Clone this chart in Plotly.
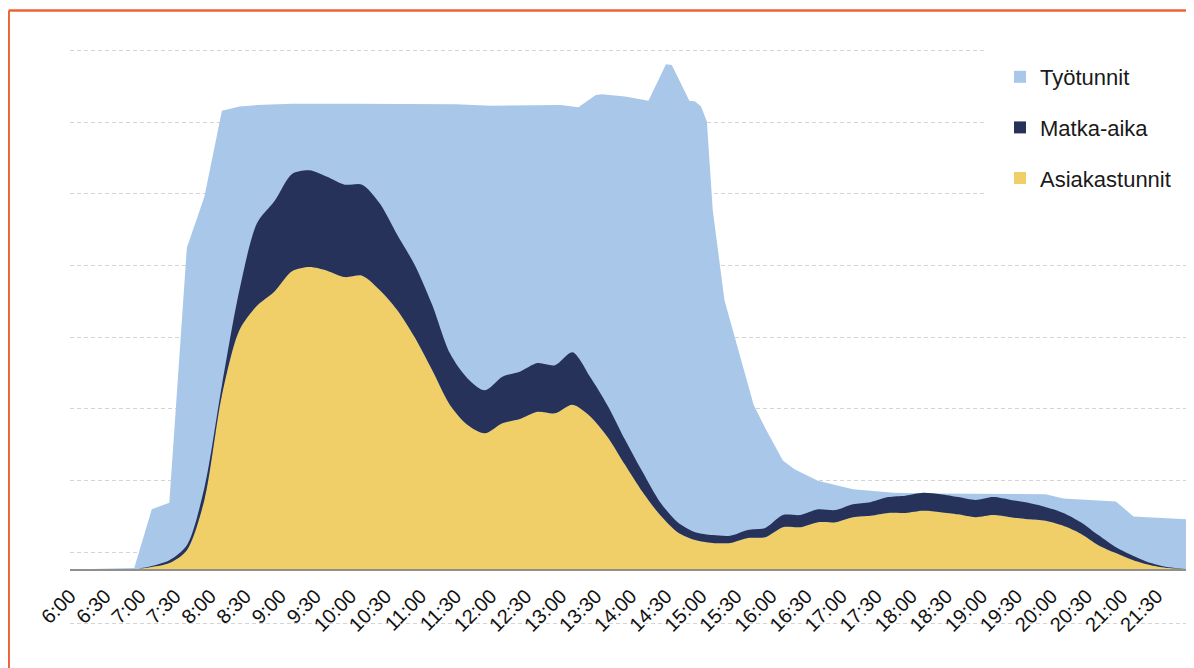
import plotly.graph_objects as go

# ---------------- data ----------------
tick_labels = ["6:00", "6:30", "7:00", "7:30", "8:00", "8:30", "9:00", "9:30",
               "10:00", "10:30", "11:00", "11:30", "12:00", "12:30", "13:00", "13:30",
               "14:00", "14:30", "15:00", "15:30", "16:00", "16:30", "17:00", "17:30",
               "18:00", "18:30", "19:00", "19:30", "20:00", "20:30", "21:00", "21:30"]

# Työtunnit (light blue)
tyo_times = ["6:00", "6:40", "6:55", "7:10", "7:25", "7:40", "7:55", "8:10", "8:25", "8:40",
             "9:10", "10:00", "11:00", "11:30", "12:00", "12:30", "13:00", "13:15", "13:30", "13:35",
             "13:55", "14:15", "14:30", "14:35", "14:50", "14:55", "15:00", "15:05", "15:10", "15:20",
             "15:35", "15:45", "15:55", "16:10", "16:20", "16:40", "17:10", "17:45", "18:15", "19:55",
             "20:10", "20:55", "21:10", "21:55"]
tyotunnit = [0, 0.01, 0.02, 0.84, 0.93, 4.49, 5.20, 6.40, 6.46, 6.48,
             6.50, 6.50, 6.50, 6.49, 6.47, 6.48, 6.48, 6.45, 6.62, 6.63,
             6.60, 6.54, 7.05, 7.04, 6.54, 6.53, 6.46, 6.25, 5.02, 3.76,
             2.90, 2.30, 1.97, 1.52, 1.40, 1.24, 1.12, 1.07, 1.06, 1.05,
             0.99, 0.95, 0.74, 0.70]

# Asiakastunnit + Matka-aika (stacked)
times = ["6:10", "6:25", "6:40", "6:55", "7:10", "7:25", "7:40", "7:55",
         "8:10", "8:25", "8:40", "8:55", "9:10", "9:25", "9:40", "9:55",
         "10:10", "10:25", "10:40", "10:55", "11:10", "11:25", "11:40", "11:55",
         "12:10", "12:25", "12:40", "12:55", "13:10", "13:25", "13:40", "13:55",
         "14:10", "14:25", "14:40", "14:55", "15:10", "15:25", "15:40", "15:55",
         "16:10", "16:25", "16:40", "16:55", "17:10", "17:25", "17:40", "17:55",
         "18:10", "18:25", "18:40", "18:55", "19:10", "19:25", "19:40", "19:55",
         "20:10", "20:25", "20:40", "20:55", "21:10", "21:25", "21:40", "21:55"]
asiakastunnit = [0, 0, 0, 0.005, 0.035, 0.09, 0.27, 0.97,
                 2.43, 3.34, 3.68, 3.88, 4.16, 4.22, 4.17, 4.08,
                 4.10, 3.90, 3.62, 3.24, 2.78, 2.30, 2.02, 1.90,
                 2.04, 2.10, 2.20, 2.18, 2.30, 2.14, 1.85, 1.46,
                 1.08, 0.76, 0.52, 0.41, 0.37, 0.37, 0.44, 0.45,
                 0.59, 0.59, 0.66, 0.66, 0.73, 0.75, 0.79, 0.79,
                 0.82, 0.80, 0.77, 0.73, 0.76, 0.73, 0.70, 0.68,
                 0.61, 0.50, 0.34, 0.23, 0.13, 0.06, 0.02, 0.01]
matka_aika = [0, 0, 0, 0, 0.015, 0.04, 0.07, 0.17,
              0.14, 0.56, 1.15, 1.26, 1.36, 1.35, 1.31, 1.29,
              1.27, 1.21, 1.05, 1.01, 0.91, 0.72, 0.65, 0.60,
              0.65, 0.66, 0.68, 0.67, 0.73, 0.55, 0.44, 0.35,
              0.28, 0.18, 0.14, 0.11, 0.11, 0.10, 0.11, 0.13,
              0.17, 0.17, 0.18, 0.17, 0.18, 0.19, 0.22, 0.24,
              0.25, 0.25, 0.24, 0.24, 0.25, 0.24, 0.23, 0.19,
              0.18, 0.16, 0.14, 0.08, 0.06, 0.03, 0.01, 0]

# ---------------- styling ----------------
C_TYO = "#A9C7E8"
C_MATKA = "#263259"
C_ASIAKAS = "#F0CE68"
FONT = "Liberation Sans, Arial, sans-serif"


def to_hours(s):
    h, m = s.split(":")
    return int(h) + int(m) / 60.0


x_tyo = [to_hours(t) for t in tyo_times]
x_grid = [to_hours(t) for t in times]
tick_vals = [to_hours(t) for t in tick_labels]

fig = go.Figure()

fig.add_trace(go.Scatter(x=x_tyo, y=tyotunnit, mode="lines", fill="tozeroy",
                         line=dict(width=0, color=C_TYO), fillcolor=C_TYO,
                         showlegend=False, hoverinfo="skip"))
fig.add_trace(go.Scatter(x=x_grid, y=asiakastunnit, mode="lines", stackgroup="s",
                         line=dict(width=0, color=C_ASIAKAS, shape="spline", smoothing=0.8),
                         fillcolor=C_ASIAKAS, showlegend=False, hoverinfo="skip"))
fig.add_trace(go.Scatter(x=x_grid, y=matka_aika, mode="lines", stackgroup="s",
                         line=dict(width=0, color=C_MATKA, shape="spline", smoothing=0.8),
                         fillcolor=C_MATKA, showlegend=False, hoverinfo="skip"))

# legend entries (square markers)
for name, col, grp in [("Työtunnit", C_TYO, "a"), ("Matka-aika", C_MATKA, "b"),
                       ("Asiakastunnit", C_ASIAKAS, "c")]:
    fig.add_trace(go.Scatter(x=[None], y=[None], mode="markers", name=name,
                             legendgroup=grp,
                             marker=dict(symbol="square", size=11, color=col)))

# The page body adds an 8px margin, so the figure is 8px smaller and all
# screen positions below are expressed in window pixels.
OFF = 8
FIG_W, FIG_H = 1194 - OFF, 668 - OFF
L, R, T, B = 70, 1186, 40, 640          # plot area in window pixels
W, H = R - L, B - T


def px(xp):
    return (xp - L) / W


def py(yp):
    return (B - yp) / H


base = 569.5
unit = 71.67
y_lo = (base - B) / unit
y_hi = (base - T) / unit
grid_vals = [-0.76 + k for k in range(9)]

fig.update_layout(
    width=FIG_W, height=FIG_H,
    margin=dict(l=L - OFF, r=1194 - R, t=T - OFF, b=668 - B),
    paper_bgcolor="white", plot_bgcolor="white",
    font=dict(family=FONT, color="#1a1a1a"),
    showlegend=True,
    legend=dict(x=px(1000), y=py(56), xanchor="left", yanchor="top",
                bgcolor="white", font=dict(size=22, family=FONT, color="#1a1a1a"),
                tracegroupgap=19, itemsizing="constant"),
    xaxis=dict(range=[6, to_hours("21:55")], anchor="free", position=py(base),
               showline=True, linecolor="#8f8f8f", linewidth=2,
               showgrid=False, zeroline=False,
               tickmode="array", tickvals=tick_vals, ticktext=tick_labels,
               tickangle=-45, tickfont=dict(size=20, family=FONT, color="#111111"),
               ticks="", ticklabelstandoff=6),
    yaxis=dict(range=[y_lo, y_hi], showticklabels=False, zeroline=False,
               showline=False, tickmode="array", tickvals=grid_vals,
               showgrid=True, gridcolor="#d4d4d4", gridwidth=1, griddash="4px,3px"),
    shapes=[
        # white panel behind the legend (hides the upper gridlines there)
        dict(type="rect", xref="paper", yref="paper", x0=px(986), x1=px(1186),
             y0=py(215), y1=py(42), fillcolor="white", line=dict(width=0),
             layer="above"),
        dict(type="line", xref="paper", yref="paper", x0=px(8.7), x1=px(1200),
             y0=py(10.5), y1=py(10.5), line=dict(color="#EB6437", width=2.5)),
        dict(type="line", xref="paper", yref="paper", x0=px(8.7), x1=px(8.7),
             y0=py(10.5), y1=py(680), line=dict(color="#EB6437", width=2.5)),
    ],
)

fig.write_html("out.html")
